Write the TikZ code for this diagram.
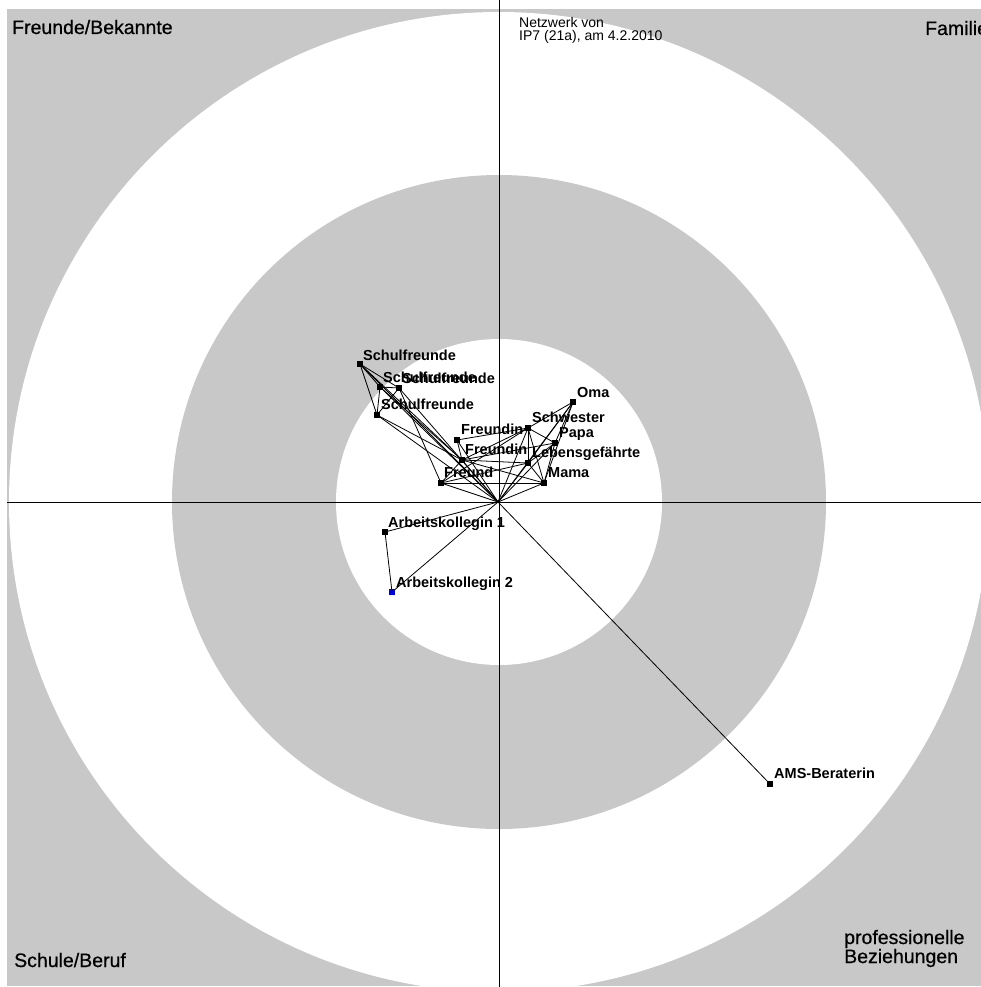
\documentclass[tikz,border=0pt]{standalone}
\usepackage{fontspec}
\setmainfont{Liberation Sans}
\newfontfamily\cornerfont[FakeBold=0.6]{Liberation Sans}
\definecolor{bggray}{RGB}{200,200,200}
\definecolor{nodeblue}{RGB}{0,0,210}
\begin{document}
\begin{tikzpicture}[x=1pt,y=-1pt,
  sq/.style={rectangle,fill=black,minimum size=6pt,inner sep=0pt},
  sqblue/.style={sq,fill=nodeblue},
  tie/.style={line width=0.8pt,black},
  lab/.style={anchor=base west,inner sep=0pt,font=\fontsize{14.5}{15}\selectfont\bfseries},
  corner/.style={anchor=base west,inner sep=0pt,font=\cornerfont\fontsize{19.5}{21}\selectfont},
  note/.style={anchor=base west,inner sep=0pt,font=\fontsize{14}{14}\selectfont},
  axis/.style={line width=0.9pt,black}]
\useasboundingbox (0,0) rectangle (981,987);
\fill[white] (0,0) rectangle (981,987);
\begin{scope}
\clip (7,9) rectangle (981,986);
\fill[bggray] (7,9) rectangle (981,986);
\fill[white] (499,502) circle[radius=490pt];
\fill[bggray] (499,502) circle[radius=327pt];
\fill[white] (499,502) circle[radius=163pt];
\end{scope}
% axes
\coordinate (axT) at (499,0);
\coordinate (axB) at (499,987);
\coordinate (axL) at (7,502);
\coordinate (axR) at (981,502);
\draw[axis] (axT) -- (axB);
\draw[axis] (axL) -- (axR);
% nodes
\coordinate (ego) at (498,502);
\node[sq] (sa) at (360,364) {};
\node[sq] (sb) at (380,387) {};
\node[sq] (sc) at (399,388) {};
\node[sq] (sd) at (377,415) {};
\node[sq] (f1) at (457,440) {};
\node[sq] (f2) at (462,460) {};
\node[sq] (fr) at (441,483) {};
\node[sq] (oma) at (573,402) {};
\node[sq] (schw) at (528,428) {};
\node[sq] (papa) at (555,443) {};
\node[sq] (leb) at (528,463) {};
\node[sq] (mama) at (544,483) {};
\node[sq] (ak1) at (385,532) {};
\node[sqblue] (ak2) at (392,592) {};
\node[sq] (ams) at (770,784) {};
% ties
\foreach \n in {sa,sb,sc,sd,f1,f2,fr,oma,schw,papa,leb,mama,ak1,ak2,ams}
  \draw[tie] (ego) -- (\n.center);
\foreach \a/\b in {sa/sb,sa/sc,sa/sd,sb/sc,sb/sd,sc/sd,sa/f2,sb/f2,sd/f2,sc/fr,
  f1/f2,f1/schw,f2/schw,f2/papa,f2/leb,f2/mama,f2/fr,fr/mama,fr/leb,fr/schw,
  oma/schw,oma/papa,oma/leb,oma/mama,schw/papa,schw/leb,schw/mama,papa/leb,papa/mama,leb/mama,
  ak1/ak2}
  \draw[tie] (\a.center) -- (\b.center);
% redraw squares on top
\foreach \n in {sa,sb,sc,sd,f1,f2,fr,oma,schw,papa,leb,mama,ak1,ams}
  \fill (\n.south west) rectangle (\n.north east);
\fill[nodeblue] (ak2.south west) rectangle (ak2.north east);
% labels
\node[lab] (lsa) at (363,360) {Schulfreunde};
\node[lab] (lsb) at (383,382) {Schulfreunde};
\node[lab] (lsc) at (402,383) {Schulfreunde};
\node[lab] (lsd) at (381,409) {Schulfreunde};
\node[lab] (lf1) at (461,434) {Freundin};
\node[lab] (lf2) at (465,454) {Freundin};
\node[lab] (lfr) at (444,477) {Freund};
\node[lab] (loma) at (577,397) {Oma};
\node[lab] (lschw) at (532,422) {Schwester};
\node[lab] (lpapa) at (559,437) {Papa};
\node[lab] (lleb) at (532,457) {Lebensgefährte};
\node[lab] (lmama) at (548,477) {Mama};
\node[lab] (lak1) at (388,527) {Arbeitskollegin 1};
\node[lab] (lak2) at (396,587) {Arbeitskollegin 2};
\node[lab] (lams) at (774,778) {AMS-Beraterin};
% corner texts
\node[corner] (tfb) at (12,34) {Freunde/Bekannte};
\node[corner] (tfam) at (925,35) {Familie};
\node[corner] (tsb) at (14,967) {Schule/Beruf};
\node[corner] (tpro) at (844,944) {professionelle};
\node[corner] (tbez) at (844,963) {Beziehungen};
\node[note] (n1) at (519,28) {Netzwerk von};
\node[note] (n2) at (519,41) {IP7 (21a), am 4.2.2010};
\end{tikzpicture}
\end{document}
